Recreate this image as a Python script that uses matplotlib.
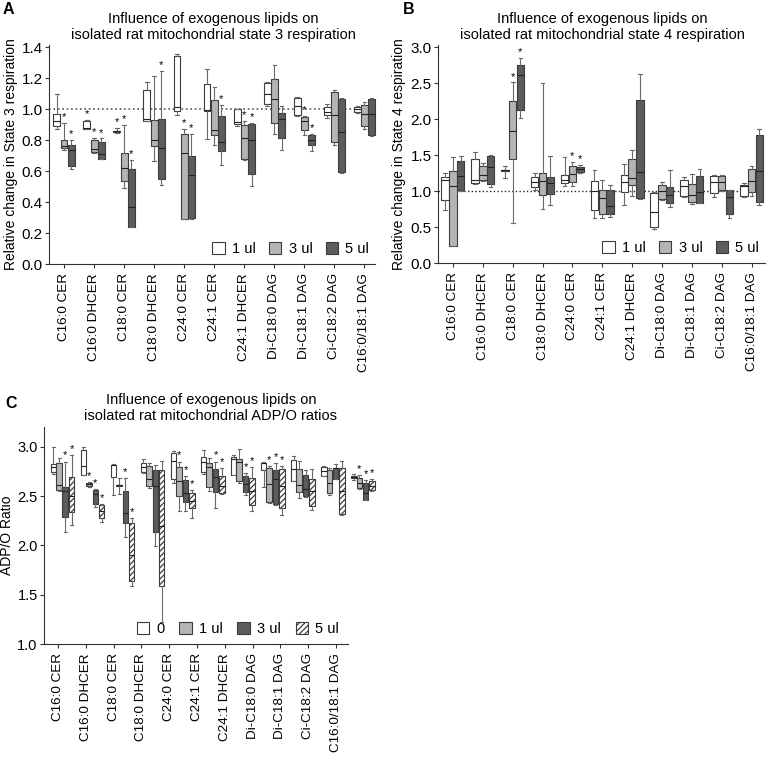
import numpy as np
import matplotlib.pyplot as plt
from matplotlib.patches import Patch

plt.rcParams['font.family'] = ['Liberation Sans', 'DejaVu Sans']
plt.rcParams['hatch.linewidth'] = 0.9

# =============================================================================
# Dados (whisker min, q1, mediana, q3, whisker max)
# =============================================================================

lipids = ['C16:0 CER', 'C16:0 DHCER', 'C18:0 CER', 'C18:0 DHCER', 'C24:0 CER',
          'C24:1 CER', 'C24:1 DHCER', 'Di-C18:0 DAG', 'Di-C18:1 DAG',
          'Ci-C18:2 DAG', 'C16:0/18:1 DAG']

# --- Painel A: state 3 ---
s3_1ul = [(0.87, 0.89, 0.92, 0.97, 1.10), (0.874, 0.874, 0.88, 0.92, 0.93),
          (0.845, 0.852, 0.855, 0.858, 0.88), (0.92, 0.92, 0.936, 1.12, 1.175),
          (0.964, 0.987, 1.013, 1.34, 1.355), (0.805, 0.99, 0.996, 1.163, 1.26),
          (0.89, 0.906, 0.917, 1.0, 1.0), (1.02, 1.03, 1.10, 1.167, 1.173),
          (0.953, 0.96, 1.017, 1.073, 1.077), (0.944, 0.96, 0.98, 1.013, 1.03),
          (0.976, 0.98, 0.998, 1.013, 1.017)]
s3_3ul = [(0.735, 0.75, 0.76, 0.80, 0.91), (0.713, 0.72, 0.74, 0.80, 0.816),
          (0.49, 0.534, 0.617, 0.713, 0.895), (0.664, 0.763, 0.80, 0.93, 1.21),
          (0.29, 0.29, 0.717, 0.84, 0.87), (0.77, 0.83, 0.863, 1.06, 1.145),
          (0.67, 0.68, 0.81, 0.895, 0.923), (0.84, 0.912, 1.066, 1.195, 1.285),
          (0.83, 0.867, 0.923, 0.95, 0.957), (0.77, 0.79, 0.96, 1.11, 1.12),
          (0.874, 0.89, 0.97, 1.028, 1.043)]
s3_5ul = [(0.61, 0.63, 0.735, 0.77, 0.80), (0.677, 0.68, 0.707, 0.786, 0.81),
          (0.24, 0.24, 0.37, 0.61, 0.67), (0.51, 0.547, 0.75, 0.936, 1.244),
          (0.29, 0.30, 0.574, 0.70, 0.838), (0.64, 0.728, 0.784, 0.957, 1.028),
          (0.506, 0.58, 0.80, 0.906, 0.91), (0.735, 0.816, 0.936, 0.976, 1.02),
          (0.728, 0.765, 0.80, 0.83, 0.837), (0.59, 0.596, 0.853, 1.064, 1.07),
          (0.825, 0.83, 0.966, 1.066, 1.073)]
s3_stars = {'1ul': [1, 2], '3ul': [0, 1, 2, 4, 6, 8], '5ul': [0, 1, 2, 3, 4, 5, 6, 8]}

# --- Painel B: state 4 ---
s4_1ul = [(0.74, 0.88, 1.16, 1.19, 1.245), (1.10, 1.11, 1.15, 1.45, 1.54),
          (1.18, 1.285, 1.29, 1.295, 1.35), (1.02, 1.05, 1.12, 1.20, 1.245),
          (1.07, 1.11, 1.15, 1.22, 1.48), (0.62, 0.73, 1.0, 1.14, 1.29),
          (0.805, 0.99, 1.13, 1.22, 1.375), (0.47, 0.495, 0.71, 0.97, 0.99),
          (0.92, 0.935, 1.07, 1.16, 1.20), (0.92, 0.97, 1.13, 1.21, 1.22),
          (0.92, 0.93, 1.07, 1.09, 1.11)]
s4_3ul = [(0.23, 0.23, 1.07, 1.28, 1.47), (1.14, 1.16, 1.22, 1.35, 1.39),
          (0.55, 1.44, 1.84, 2.25, 2.51), (0.745, 0.94, 1.14, 1.245, 2.495),
          (1.07, 1.13, 1.24, 1.35, 1.41), (0.62, 0.68, 0.91, 1.015, 1.16),
          (0.935, 1.08, 1.185, 1.44, 1.57), (0.88, 0.89, 1.0, 1.08, 1.12),
          (0.82, 0.85, 0.94, 1.10, 1.24), (1.0, 1.01, 1.13, 1.21, 1.22),
          (0.93, 0.99, 1.14, 1.30, 1.35)]
s4_5ul = [(1.0, 1.02, 1.21, 1.42, 1.49), (1.06, 1.10, 1.33, 1.49, 1.50),
          (2.02, 2.12, 2.61, 2.75, 2.85), (0.81, 0.96, 1.11, 1.19, 1.49),
          (1.25, 1.27, 1.31, 1.34, 1.36), (0.635, 0.68, 0.79, 1.015, 1.08),
          (0.89, 0.91, 1.26, 2.27, 2.625), (0.78, 0.84, 0.94, 1.05, 1.29),
          (0.83, 0.84, 0.99, 1.21, 1.31), (0.62, 0.68, 0.92, 1.015, 1.02),
          (0.81, 0.85, 1.28, 1.78, 1.86)]
s4_stars = {'1ul': [], '3ul': [2, 4], '5ul': [2, 4]}

# --- Painel C: ADP/O ---
adp_0 = [(2.72, 2.74, 2.79, 2.82, 3.0), (2.71, 2.71, 2.80, 2.97, 3.0),
         (2.51, 2.69, 2.81, 2.815, 2.82), (2.73, 2.74, 2.79, 2.84, 2.88),
         (2.63, 2.67, 2.855, 2.94, 2.96), (2.72, 2.74, 2.85, 2.90, 2.97),
         (2.71, 2.71, 2.875, 2.90, 2.92), (2.59, 2.76, 2.83, 2.84, 2.85),
         (2.65, 2.65, 2.77, 2.865, 2.906), (2.70, 2.70, 2.75, 2.79, 2.80),
         (2.66, 2.68, 2.69, 2.70, 2.72)]
adp_1ul = [(2.55, 2.56, 2.61, 2.83, 2.89), (2.59, 2.60, 2.62, 2.63, 2.64),
           (2.52, 2.605, 2.61, 2.615, 2.68), (2.58, 2.60, 2.67, 2.80, 2.83),
           (2.35, 2.50, 2.65, 2.79, 2.85), (2.55, 2.59, 2.79, 2.83, 2.89),
           (2.63, 2.65, 2.85, 2.875, 2.98), (2.43, 2.44, 2.62, 2.78, 2.80),
           (2.48, 2.545, 2.61, 2.77, 2.855), (2.51, 2.53, 2.63, 2.76, 2.78),
           (2.57, 2.58, 2.63, 2.68, 2.71)]
adp_3ul = [(2.14, 2.29, 2.55, 2.59, 2.85), (2.39, 2.42, 2.52, 2.56, 2.57),
           (2.08, 2.23, 2.33, 2.55, 2.68), (1.99, 2.14, 2.60, 2.76, 2.815),
           (2.35, 2.44, 2.535, 2.66, 2.70), (2.38, 2.54, 2.69, 2.77, 2.85),
           (2.51, 2.54, 2.62, 2.70, 2.73), (2.41, 2.42, 2.67, 2.76, 2.83),
           (2.49, 2.50, 2.57, 2.71, 2.76), (2.67, 2.67, 2.78, 2.78, 2.825),
           (2.46, 2.46, 2.53, 2.63, 2.66)]
adp_5ul = [(2.21, 2.34, 2.50, 2.69, 2.92), (2.24, 2.28, 2.35, 2.41, 2.42),
           (1.59, 1.636, 1.9, 2.23, 2.28), (1.22, 1.584, 2.2, 2.76, 2.855),
           (2.28, 2.38, 2.45, 2.53, 2.56), (2.52, 2.53, 2.6, 2.70, 2.78),
           (2.35, 2.41, 2.55, 2.68, 2.79), (2.31, 2.38, 2.6, 2.77, 2.80),
           (2.36, 2.40, 2.55, 2.67, 2.77), (2.31, 2.32, 2.55, 2.78, 2.86),
           (2.55, 2.56, 2.6, 2.65, 2.67)]
adp_stars = {'0': [], '1ul': [1, 4, 7, 10], '3ul': [0, 1, 2, 4, 5, 6, 7, 10],
             '5ul': [0, 1, 2, 4, 5, 6, 7, 10]}

# =============================================================================
# Estilo
# =============================================================================

WHITE = '#ffffff'
LIGHT = '#b4b4b4'
DARK = '#5c5c5c'
EDGE = '#3c3c3c'
WHISK = '#6a6a6a'
FS_CAT = 9.7
FS_TITLE = 10.5


def draw_series(ax, data, pos, width, face, hatch=None, stars=(), pad=0.01):
    stats = [dict(whislo=d[0], q1=d[1], med=d[2], q3=d[3], whishi=d[4], fliers=[])
             for d in data]
    art = ax.bxp(stats, positions=pos, widths=width, capwidths=width * 0.5,
                 patch_artist=True, showfliers=False, manage_ticks=False,
                 boxprops=dict(facecolor=face, edgecolor=EDGE, linewidth=0.8, hatch=hatch),
                 medianprops=dict(color='#222222', linewidth=0.8),
                 whiskerprops=dict(color=WHISK, linewidth=0.8),
                 capprops=dict(color=WHISK, linewidth=0.8))
    for group in art.values():
        for a in group:
            a.set_clip_on(False)
    for i in stars:
        ax.text(pos[i], data[i][4] + pad, '*', ha='center', va='bottom', fontsize=8)


def style_axis(ax, ticks, ytick_size=11):
    for s in ['top', 'right']:
        ax.spines[s].set_visible(False)
    for s in ['left', 'bottom']:
        ax.spines[s].set_color('#333333')
        ax.spines[s].set_linewidth(0.8)
    ax.set_xticks(ticks)
    ax.set_xticklabels(lipids, rotation=90, fontsize=FS_CAT)
    ax.tick_params(axis='both', direction='out', length=3, width=0.8, color='#333333')
    ax.tick_params(axis='y', labelsize=ytick_size, pad=1.5)


# =============================================================================
# Figura
# =============================================================================

W, H = 766, 758
fig = plt.figure(figsize=(W / 100, H / 100), dpi=100)

x = np.arange(len(lipids))

# ---------------- A ----------------
axA = fig.add_axes([49 / W, 1 - 264 / H, 326 / W, 219 / H])
offA = [-0.24, 0.0, 0.24]
wA = 0.23
axA.axhline(1.0, color='#555555', linestyle=':', linewidth=1.2, zorder=0)
draw_series(axA, s3_1ul, x + offA[0], wA, WHITE, stars=s3_stars['1ul'], pad=0.005)
draw_series(axA, s3_3ul, x + offA[1], wA, LIGHT, stars=s3_stars['3ul'], pad=0.005)
draw_series(axA, s3_5ul, x + offA[2], wA, DARK, stars=s3_stars['5ul'], pad=0.005)
axA.set_xlim(-0.5, 10.35)
axA.set_ylim(0, 1.413)
axA.set_yticks(np.arange(0, 1.41, 0.2))
axA.yaxis.set_major_formatter(plt.FormatStrFormatter('%.1f'))
style_axis(axA, x)
axA.set_ylabel('Relative change in State 3 respiration', fontsize=10)
axA.yaxis.set_label_coords(-0.095, 0.5)
hA = [Patch(facecolor=c, edgecolor=EDGE, linewidth=0.8) for c in (WHITE, LIGHT, DARK)]
axA.legend(hA, ['1 ul', '3 ul', '5 ul'], ncol=3, loc='lower right',
           bbox_to_anchor=(1.0, 0.01), frameon=False, fontsize=10.5,
           handlelength=0.85, handleheight=0.85, handletextpad=0.5,
           columnspacing=0.9, borderaxespad=0)

# ---------------- B ----------------
axB = fig.add_axes([438 / W, 1 - 263 / H, 327 / W, 218 / H])
offB = [-0.26, 0.0, 0.26]
wB = 0.25
axB.axhline(1.0, color='#222222', linestyle=':', linewidth=1.0, zorder=0)
draw_series(axB, s4_1ul, x + offB[0], wB, WHITE, stars=s4_stars['1ul'], pad=0.01)
draw_series(axB, s4_3ul, x + offB[1], wB, LIGHT, stars=s4_stars['3ul'], pad=0.01)
draw_series(axB, s4_5ul, x + offB[2], wB, DARK, stars=s4_stars['5ul'], pad=0.01)
axB.set_xlim(-0.5, 10.45)
axB.set_ylim(0, 3.03)
axB.set_yticks(np.arange(0, 3.01, 0.5))
axB.yaxis.set_major_formatter(plt.FormatStrFormatter('%.1f'))
style_axis(axB, x)
axB.set_ylabel('Relative change in State 4 respiration', fontsize=10)
axB.yaxis.set_label_coords(-0.097, 0.5)
axB.legend(hA, ['1 ul', '3 ul', '5 ul'], ncol=3, loc='lower right',
           bbox_to_anchor=(1.0, 0.01), frameon=False, fontsize=10.5,
           handlelength=0.85, handleheight=0.85, handletextpad=0.5,
           columnspacing=0.9, borderaxespad=0)

# ---------------- C ----------------
# as caixas no original tem passo maior que o dos ticks
box_step = 30 / 27.8
box_shift = 0.16
xC = x * box_step + box_shift
axC = fig.add_axes([44 / W, 1 - 644 / H, 304 / W, 217 / H])
offC = [-0.32, -0.11, 0.11, 0.33]
wC = 0.21
draw_series(axC, adp_0, xC + offC[0], wC, WHITE, stars=adp_stars['0'], pad=0.01)
draw_series(axC, adp_1ul, xC + offC[1], wC, LIGHT, stars=adp_stars['1ul'], pad=0.01)
draw_series(axC, adp_3ul, xC + offC[2], wC, DARK, stars=adp_stars['3ul'], pad=0.01)
draw_series(axC, adp_5ul, xC + offC[3], wC, WHITE, hatch='//////',
            stars=adp_stars['5ul'], pad=0.01)
axC.set_xlim(-0.5, 10.43)
axC.set_ylim(1.0, 3.2)
axC.set_yticks(np.arange(1.0, 3.01, 0.5))
axC.yaxis.set_major_formatter(plt.FormatStrFormatter('%.1f'))
style_axis(axC, x, ytick_size=10.5)
axC.set_ylabel('ADP/O Ratio', fontsize=10)
axC.yaxis.set_label_coords(-0.1, 0.5)
hC = [Patch(facecolor=WHITE, edgecolor=EDGE, linewidth=0.8),
      Patch(facecolor=LIGHT, edgecolor=EDGE, linewidth=0.8),
      Patch(facecolor=DARK, edgecolor=EDGE, linewidth=0.8),
      Patch(facecolor=WHITE, edgecolor=EDGE, linewidth=0.8, hatch='//////')]
axC.legend(hC, ['0', '1 ul', '3 ul', '5 ul'], ncol=4, loc='lower right',
           bbox_to_anchor=(0.99, 0.01), frameon=False, fontsize=10.5,
           handlelength=0.85, handleheight=0.85, handletextpad=0.5,
           columnspacing=1.0, borderaxespad=0)

# ---------------- titulos e letras ----------------
fig.text(213 / W, 1 - 27 / H,
         'Influence of exogenous lipids on\nisolated rat mitochondrial state 3 respiration',
         ha='center', va='center', fontsize=FS_TITLE, linespacing=1.15)
fig.text(602 / W, 1 - 27 / H,
         'Influence of exogenous lipids on\nisolated rat mitochondrial state 4 respiration',
         ha='center', va='center', fontsize=FS_TITLE, linespacing=1.15)
fig.text(211 / W, 1 - 408 / H,
         'Influence of exogenous lipids on\nisolated rat mitochondrial ADP/O ratios',
         ha='center', va='center', fontsize=FS_TITLE, linespacing=1.15)
fig.text(3 / W, 1 - 2 / H, 'A', fontsize=11.5, fontweight='bold', ha='left', va='top')
fig.text(403 / W, 1 - 2 / H, 'B', fontsize=11.5, fontweight='bold', ha='left', va='top')
fig.text(5 / W, 1 - 396 / H, 'C', fontsize=11.5, fontweight='bold', ha='left', va='top')

fig.savefig('out.png', dpi=100)
